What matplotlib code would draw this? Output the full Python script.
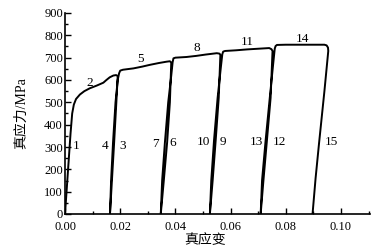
import numpy as np
import matplotlib
matplotlib.use("Agg")
import matplotlib.pyplot as plt

plt.rcParams['font.family'] = ['Liberation Serif', 'Noto Sans CJK SC']

# curva de carga/descarga (deformacao verdadeira, tensao verdadeira em MPa)
strain = [0.0000, 0.0010, 0.0020, 0.0026, 0.0032, 0.0040, 0.0054, 0.0070, 0.0090, 0.0115,
          0.0139, 0.0150, 0.0162, 0.0175, 0.0185, 0.0191,
          0.0186, 0.0178, 0.0170, 0.0163,
          0.0167, 0.0174, 0.0183, 0.0191, 0.0196, 0.0200,
          0.0210, 0.0248, 0.0280, 0.0308, 0.0340, 0.0368, 0.0380, 0.0385,
          0.0380, 0.0370, 0.0358, 0.0347,
          0.0352, 0.0362, 0.0374, 0.0385, 0.0390, 0.0393, 0.0400,
          0.0440, 0.0476, 0.0510, 0.0550, 0.0560, 0.0563,
          0.0557, 0.0546, 0.0535, 0.0525,
          0.0530, 0.0540, 0.0553, 0.0565, 0.0570, 0.0573, 0.0580,
          0.0620, 0.0660, 0.0700, 0.0740, 0.0748, 0.0752,
          0.0745, 0.0731, 0.0719, 0.0709,
          0.0714, 0.0727, 0.0742, 0.0755, 0.0760, 0.0763, 0.0768,
          0.0800, 0.0860, 0.0940, 0.0948, 0.0953, 0.0954,
          0.0940, 0.0920, 0.0908, 0.0897]
stress = [0, 180, 360, 450, 490, 515, 535, 550, 563, 575,
          588, 600, 612, 620, 622, 618,
          500, 320, 150, 0,
          150, 320, 500, 600, 630, 642,
          646, 652, 660, 668, 676, 682, 684, 678,
          500, 320, 150, 0,
          150, 320, 500, 620, 680, 697, 700,
          703, 708, 714, 720, 718, 712,
          520, 330, 150, 0,
          150, 330, 520, 660, 715, 727, 730,
          733, 737, 740, 743, 738, 730,
          520, 320, 150, 0,
          150, 330, 520, 680, 740, 752, 757,
          758, 758, 758, 755, 745, 730,
          550, 310, 160, 0]

# rotulos dos trechos
rot_txt = ['1', '2', '3', '4', '5', '6', '7', '8', '9', '10', '11', '12', '13', '14', '15']
rot_x = [0.0042, 0.0090, 0.0209, 0.0145, 0.0272, 0.0392, 0.0329, 0.0476, 0.0572, 0.0500,
         0.0660, 0.0778, 0.0693, 0.0862, 0.0965]
rot_y = [304, 588, 304, 304, 694, 316, 312, 745, 324, 324, 772, 324, 324, 782, 324]

fig = plt.figure(figsize=(3.76, 2.5), dpi=100)
ax = fig.add_axes([0.1729, 0.144, 0.811, 0.804])

ax.plot(strain, stress, 'k-', lw=1.4)

for t, xx, yy in zip(rot_txt, rot_x, rot_y):
    ax.text(xx, yy, t, fontsize=9.5, ha='center', va='center')

ax.set_xlim(0, 0.1105)
ax.set_ylim(0, 900)
ax.set_xticks(np.arange(0, 0.101, 0.02))
ax.set_xticks(np.arange(0, 0.111, 0.01), minor=True)
ax.set_yticks(np.arange(0, 901, 100))
ax.set_yticks(np.arange(0, 901, 50), minor=True)
ax.set_xticklabels(['0.00', '0.02', '0.04', '0.06', '0.08', '0.10'])
ax.tick_params(which='both', direction='in', labelsize=9, width=1)
ax.tick_params(which='major', length=4)
ax.tick_params(axis='x', which='major', pad=5)
ax.tick_params(axis='y', which='major', pad=1.5)
ax.tick_params(which='minor', length=2.5)

ax.spines['top'].set_visible(False)
ax.spines['right'].set_visible(False)
ax.spines['left'].set_linewidth(1.2)
ax.spines['bottom'].set_linewidth(1.2)

ax.set_xlabel('真应变', fontsize=10, labelpad=0)
ax.xaxis.set_label_coords(0.459, -0.1)
ax.set_ylabel('真应力/MPa', fontsize=10, labelpad=1)
ax.yaxis.set_label_coords(-0.12, 0.5)

fig.savefig('out.png', dpi=100)
